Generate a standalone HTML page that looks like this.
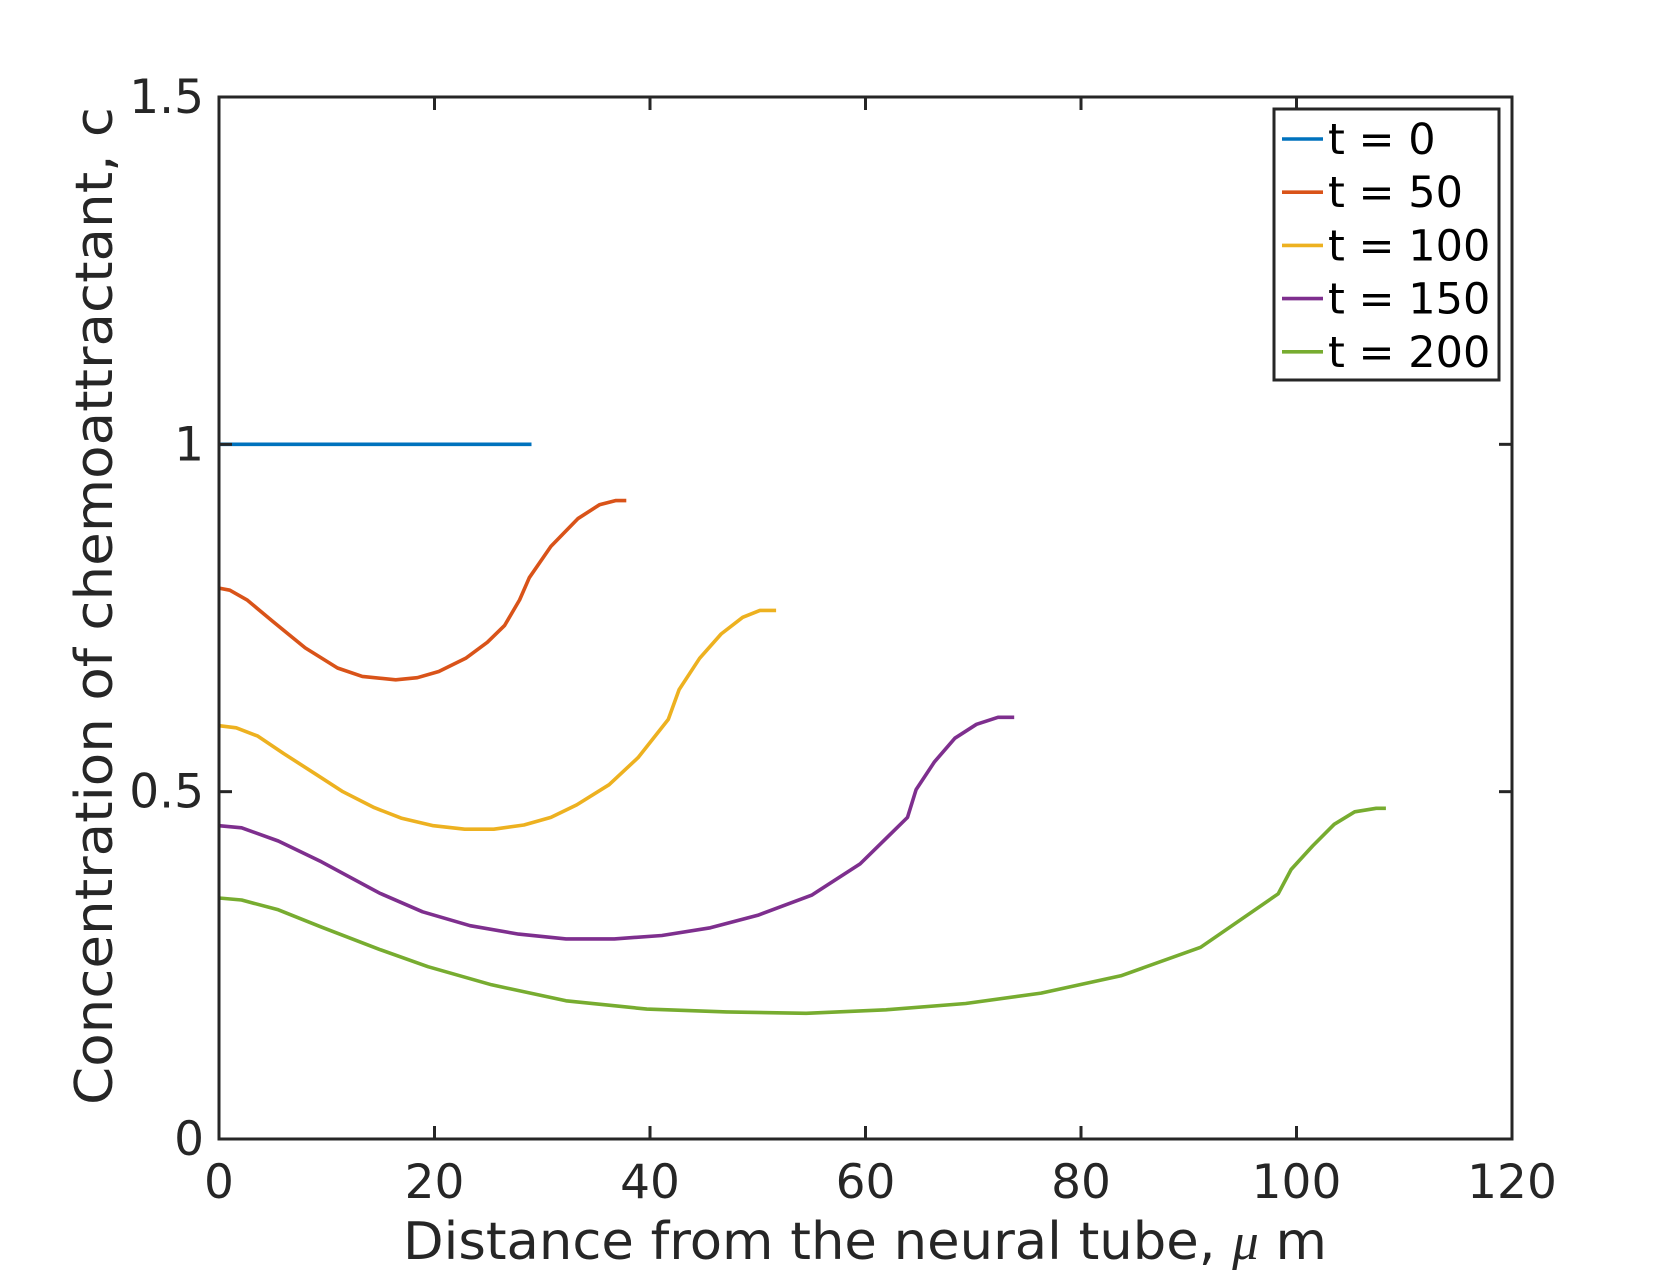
<!DOCTYPE html>
<html><head><meta charset="utf-8"><style>
html,body{margin:0;padding:0;background:#fff;}
svg{display:block;font-family:"DejaVu Sans","Liberation Sans",sans-serif;}
</style></head><body>
<svg id="chart" width="1673" height="1281" viewBox="0 0 1673 1281" xmlns="http://www.w3.org/2000/svg">
<rect width="1673" height="1281" fill="#fff"/>
<g id="marks"></g>
<g id="axes"></g>
<g id="legend"></g>
</svg>
<script>
const xTicks=[0,20,40,60,80,100,120];
const yTicks=[0,0.5,1,1.5];
const yTickLabels=["0","0.5","1","1.5"];
const seriesNames=["t = 0","t = 50","t = 100","t = 150","t = 200"];
const colors=["#0072BD","#D95319","#EDB120","#7E2F8E","#77AC30"];
const x0=[0,29];
const y0=[1,1];
const x50=[0,1,2.6,5,8,11,13.3,16.4,18.4,20.4,22.9,24.9,26.5,27.9,28.8,30.8,33.3,35.3,36.8,37.8];
const y50=[0.793,0.790,0.776,0.745,0.707,0.678,0.666,0.661,0.664,0.673,0.692,0.715,0.739,0.776,0.808,0.853,0.893,0.913,0.919,0.919];
const x100=[0,1.6,3.6,6,9,11.5,14.4,16.9,19.9,22.8,25.5,28.3,30.8,33.2,36.2,38.9,41.7,42.7,44.6,46.6,48.6,50.2,51.7];
const y100=[0.595,0.592,0.580,0.555,0.525,0.500,0.477,0.462,0.451,0.446,0.446,0.452,0.463,0.481,0.510,0.549,0.604,0.647,0.692,0.727,0.751,0.761,0.761];
const x150=[0,2.1,5.5,9.5,14.9,18.9,23.3,27.8,32.2,36.7,41.1,45.6,50,55,59.5,63.9,64.7,66.4,68.3,70.3,72.3,73.8];
const y150=[0.451,0.448,0.429,0.399,0.354,0.327,0.307,0.295,0.288,0.288,0.293,0.304,0.322,0.351,0.396,0.463,0.503,0.543,0.577,0.597,0.607,0.607];
const x200=[0,2.1,5.5,9.5,14.9,19.4,25.3,32.2,39.7,47.1,54.5,61.9,69.3,76.3,83.7,91.1,98.3,99.5,101.5,103.5,105.4,107.4,108.3];
const y200=[0.347,0.344,0.330,0.305,0.273,0.248,0.222,0.199,0.187,0.183,0.181,0.186,0.195,0.210,0.235,0.276,0.353,0.388,0.422,0.453,0.471,0.476,0.476];

const L=219,R=1512,T=97,B=1139;
const sx=v=>L+(v-0)/(120-0)*(R-L);
const sy=v=>B-(v-0)/(1.5-0)*(B-T);
const NS="http://www.w3.org/2000/svg";
function mk(tag,attrs,parent,text){const e=document.createElementNS(NS,tag);for(const k in attrs)e.setAttribute(k,attrs[k]);if(text!==undefined)e.textContent=text;parent.appendChild(e);return e;}
const marks=document.getElementById('marks'),axes=document.getElementById('axes'),legend=document.getElementById('legend');
const xs=[x0,x50,x100,x150,x200],ys=[y0,y50,y100,y150,y200];
const lineNames=['line-t0','line-t50','line-t100','line-t150','line-t200'];
for(let i=0;i<5;i++){
  const pts=xs[i].map((x,j)=>sx(x).toFixed(1)+','+sy(ys[i][j]).toFixed(1)).join(' ');
  const p=mk('polyline',{points:pts,fill:'none',stroke:colors[i],'stroke-width':3.6,'stroke-linejoin':'round'},marks);
  
  
}
const box=mk('rect',{x:L,y:T,width:R-L,height:B-T,fill:'none',stroke:'#262626','stroke-width':3},axes);


xTicks.forEach(v=>{
  const x=sx(v);
  mk('line',{x1:x,y1:B,x2:x,y2:B-13,stroke:'#262626','stroke-width':3},axes);
  mk('line',{x1:x,y1:T,x2:x,y2:T+13,stroke:'#262626','stroke-width':3},axes);
  const t=mk('text',{x:x,y:1198,'text-anchor':'middle','font-size':47,fill:'#262626'},axes,String(v));
  
  
});
yTicks.forEach((v,i)=>{
  const y=sy(v);
  mk('line',{x1:L,y1:y,x2:L+13,y2:y,stroke:'#262626','stroke-width':3},axes);
  mk('line',{x1:R,y1:y,x2:R-13,y2:y,stroke:'#262626','stroke-width':3},axes);
  const t=mk('text',{x:204,y:y+16,'text-anchor':'end','font-size':47,fill:'#262626'},axes,yTickLabels[i]);
  
  
});
const xt=mk('text',{x:403,y:1259,'font-size':52,fill:'#262626',textLength:924,lengthAdjust:'spacingAndGlyphs'},axes);
xt.innerHTML='Distance from the neural tube, <tspan font-family="Liberation Serif, serif" font-style="italic">μ</tspan> m';


const yt=mk('text',{x:0,y:0,'font-size':52,fill:'#262626',textLength:998,lengthAdjust:'spacingAndGlyphs','xml:space':'preserve',transform:'translate(112,1105) rotate(-90)'},axes,'Concentration  of chemoattractant, c');


const lb=mk('rect',{x:1274,y:109,width:225,height:271,fill:'#fff',stroke:'#262626','stroke-width':3},legend);


seriesNames.forEach((n,i)=>{
  const y=139+i*53.2;
  const g=mk('g',{},legend);
  
  
  mk('line',{x1:1282,y1:y,x2:1323,y2:y,stroke:colors[i],'stroke-width':3.6},g);
  mk('text',{x:1328,y:y+15,'font-size':43,fill:'#000'},g,n);
});
</script>
</body></html>
